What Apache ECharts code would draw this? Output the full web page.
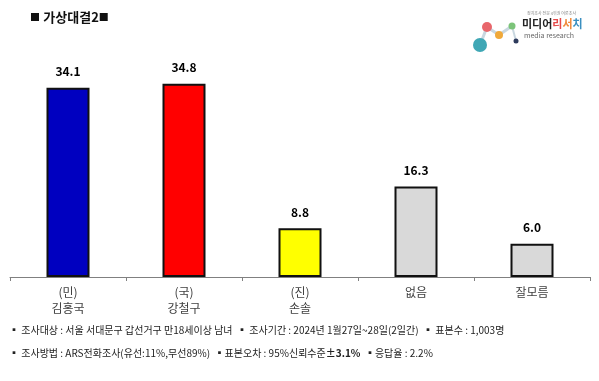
<!DOCTYPE html>
<html><head><meta charset="utf-8">
<script src="https://cdn.jsdelivr.net/npm/echarts@6/dist/echarts.min.js"></script>
<style>html,body{margin:0;padding:0;background:#fff}#c{width:599px;height:381px}</style>
</head><body><div id="c"></div>
<script>
const categories = ['(민)\n김홍국', '(국)\n강철구', '(진)\n손솔', '없음', '잘모름'];
const values = [34.1, 34.8, 8.8, 16.3, 6.0];
const barColors = ['#0000C0', '#FF0000', '#FFFF00', '#D9D9D9', '#D9D9D9'];
const titleText = '■ 가상대결2■';
const note1 = '▪ 조사대상 : 서울 서대문구 갑선거구 만18세이상 남녀  ▪ 조사기간 : 2024년 1월27일~28일(2일간)  ▪ 표본수 : 1,003명';
const note2a = '▪ 조사방법 : ARS전화조사(유선:11%,무선89%)  ▪표본오차 : 95%신뢰수준';
const note2b = '±3.1%';
const note2c = '  ▪응답율 : 2.2%';

const chart = echarts.init(document.getElementById('c'));
const font = '"Noto Sans CJK KR", "Noto Sans", sans-serif';
chart.setOption({
  animation: false,
  textStyle: { fontFamily: font },
  grid: { left: 10, right: 9, top: 55, bottom: 104 },
  xAxis: {
    type: 'category', data: categories,
    axisLine: { lineStyle: { color: '#808080', width: 1 } },
    axisTick: { show: true, length: 4, lineStyle: { color: '#808080' } },
    axisLabel: { color: '#404040', fontSize: 12, lineHeight: 16, margin: 7, fontFamily: font }
  },
  yAxis: { type: 'value', min: 0, max: 40, show: false, splitLine: { show: false } },
  series: [{
    type: 'bar', barWidth: 43,
    data: values.map((v, i) => ({ value: v, itemStyle: { color: barColors[i] } })),
    itemStyle: { borderColor: '#111', borderWidth: 2 },
    label: { show: true, position: 'top', distance: 10, color: '#000', fontWeight: 'bold', fontSize: 12,
      formatter: p => p.value.toFixed(1), fontFamily: font }
  }],
  graphic: [
    { type: 'text', left: 30, top: 11, style: { rich: {
        s: { font: 'bold 10px ' + font, fill: '#111' },
        t: { font: 'bold 13px ' + font, fill: '#111' } },
        text: '{s|■} {t|가상대결2}{s|■}' } },
    { type: 'text', left: 9, top: 325, style: { text: note1, font: '10px ' + font, fill: '#222' } },
    { type: 'text', left: 9, top: 348, style: { rich: {
        n: { font: '10px ' + font, fill: '#222' },
        b: { font: 'bold 10px ' + font, fill: '#222' } },
        text: '{n|' + note2a + '}{b|' + note2b + '}{n|' + note2c + '}' } },
    // logo
    { type: 'line', shape: { x1: 480, y1: 45, x2: 487, y2: 27 }, style: { stroke: '#c9d7e0', lineWidth: 3 } },
    { type: 'line', shape: { x1: 487, y1: 27, x2: 499, y2: 35 }, style: { stroke: '#c9d7e0', lineWidth: 3 } },
    { type: 'line', shape: { x1: 499, y1: 35, x2: 512, y2: 26 }, style: { stroke: '#c9d7e0', lineWidth: 3 } },
    { type: 'line', shape: { x1: 512, y1: 26, x2: 516, y2: 41 }, style: { stroke: '#c9d7e0', lineWidth: 2 } },
    { type: 'circle', shape: { cx: 480, cy: 45, r: 7 }, style: { fill: '#3fa7b5' } },
    { type: 'circle', shape: { cx: 487, cy: 27, r: 5 }, style: { fill: '#e8666b' } },
    { type: 'circle', shape: { cx: 499, cy: 35, r: 4 }, style: { fill: '#f0a93a' } },
    { type: 'circle', shape: { cx: 512, cy: 26, r: 3.5 }, style: { fill: '#7cc47a' } },
    { type: 'circle', shape: { cx: 516, cy: 41, r: 2.5 }, style: { fill: '#2d3a5c' } },
    { type: 'text', left: 522, top: 18, style: { rich: {
        a: { fill: '#222', font: 'bold 11px ' + font },
        r: { fill: '#e64a4a', font: 'bold 11px ' + font },
        o: { fill: '#f08a3a', font: 'bold 11px ' + font },
        t: { fill: '#3a8fc0', font: 'bold 11px ' + font }
      }, text: '{a|미디어}{r|리}{o|서}{t|치}' } },
    { type: 'text', left: 524, top: 32, style: { text: 'media research', font: '7px ' + font, fill: '#666' } },
    { type: 'text', left: 527, top: 11, style: { text: '정치조사 전문 4위권 여론조사', font: '4px ' + font, fill: '#888' } }
  ]
});
</script></body></html>
